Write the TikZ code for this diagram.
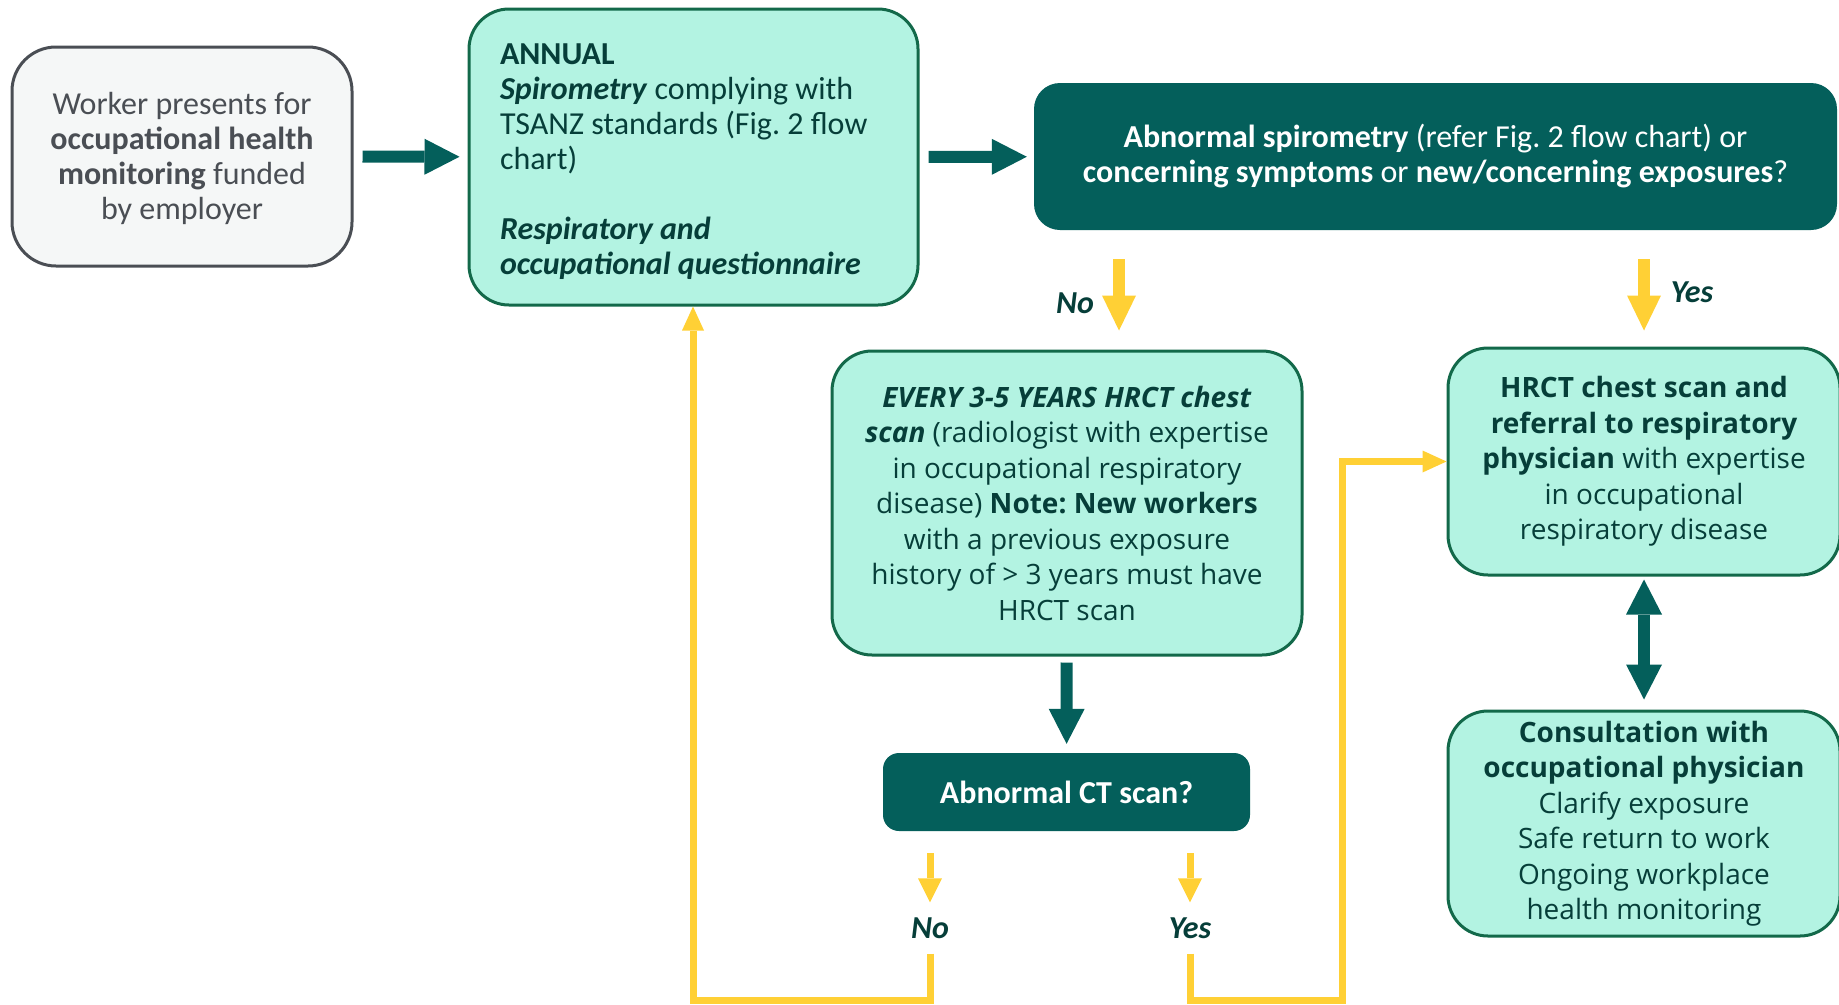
\documentclass[tikz,border=0pt]{standalone}
\usepackage{fontspec}
\setmainfont{Carlito}
\newfontfamily\widefont{Open Sans}
\usepackage{xcolor}
\usetikzlibrary{positioning,arrows.meta}
\definecolor{deepteal}{HTML}{045F5B}
\definecolor{mint}{HTML}{B3F3E2}
\definecolor{mintedge}{HTML}{13694A}
\definecolor{inkteal}{HTML}{063E39}
\definecolor{amber}{HTML}{FFD035}
\definecolor{slate}{HTML}{4A4E54}
\definecolor{paper}{HTML}{F5F7F7}
\newcommand{\narrowtxt}{\fontsize{32}{35}\selectfont}
\newcommand{\widetxt}{\widefont\fontsize{28}{35.5}\selectfont}
\newcommand{\bi}[1]{\textbf{\textit{#1}}}
\tikzset{
  intake/.style = {rectangle, rounded corners=44pt, draw=slate, fill=paper, line width=3pt,
                   text=slate, align=center, font=\narrowtxt},
  stage/.style  = {rectangle, rounded corners=40pt, draw=mintedge, fill=mint, line width=3pt,
                   text=inkteal, align=center, font=\widetxt},
  query/.style  = {rectangle, fill=deepteal, text=white, align=center, font=\narrowtxt},
  yesno/.style  = {inner sep=0pt, text=inkteal, font=\narrowtxt\bfseries\itshape},
  flow/.style   = {-{Triangle[length=35pt,width=36pt,line width=0pt]}, line width=12pt, draw=deepteal},
  twoway/.style = {{Triangle[length=35pt,width=36pt,line width=0pt]}-{Triangle[length=35pt,width=36pt,line width=0pt]},
                   line width=12pt, draw=deepteal},
  branch/.style = {-{Triangle[length=35pt,width=34pt,line width=0pt]}, line width=12pt, draw=amber},
  tick/.style   = {-{Triangle[length=24pt,width=24pt,line width=0pt]}, line width=7pt, draw=amber},
  back/.style   = {-{Triangle[length=24pt,width=22pt,line width=0pt]}, line width=7pt, draw=amber},
}

\begin{document}
\frenchspacing
\begin{tikzpicture}[x=1pt, y=-1pt]
  \useasboundingbox (0,0) rectangle (1839,1004);

  \node[intake, minimum width=340pt, minimum height=219pt] (worker) at (182,156.5)
    {\rule{0pt}{27pt}Worker presents for\\ \textbf{occupational health}\\ \textbf{monitoring} funded\\ by employer};

  \node[stage, font=\narrowtxt, align=flush left, text width=387pt, minimum width=449pt, minimum height=296pt]
    (annual) at (693.5,157)
    {\rule{0pt}{31pt}\textbf{ANNUAL}\\ \bi{Spirometry} complying with\\ TSANZ standards (Fig. 2 flow\\ chart)\\[35pt]
     \bi{Respiratory and}\\ \bi{occupational questionnaire}};

  \node[query, rounded corners=26pt, minimum width=803pt, minimum height=147pt] (spiro) at (1435.5,156.5)
    {\textbf{Abnormal spirometry} (refer Fig. 2 flow chart) or\\
     \textbf{concerning symptoms} or \textbf{new/concerning exposures}?};

  \node[stage, minimum width=470pt, minimum height=304pt] (every) at (1067,503)
    {\bi{EVERY 3-5 YEARS HRCT chest}\\ \bi{scan} (radiologist with expertise\\ in occupational respiratory\\
     disease) \textbf{Note: New workers}\\ with a previous exposure\\ history of > 3 years must have\\ HRCT scan};

  \node[query, rounded corners=16pt, font=\narrowtxt\bfseries, minimum width=367pt, minimum height=78pt]
    (ct) at (1066.5,792) {Abnormal CT scan?};

  \node[stage, minimum width=392pt, minimum height=227pt] (hrct) at (1644,461.5)
    {\textbf{HRCT chest scan and}\\ \textbf{referral to respiratory}\\ \textbf{physician} with expertise\\
     in occupational\\ respiratory disease};

  \node[stage, minimum width=392pt, minimum height=225pt] (consult) at (1644,823.5)
    {\textbf{Consultation with}\\ \textbf{occupational physician}\\ Clarify exposure\\ Safe return to work\\
     Ongoing workplace\\ health monitoring};

  \node[yesno] (spino) at (1075,303) {No};
  \node[yesno] (spiyes) at (1692,292) {Yes};
  \node[yesno] (ctno) at (930,928) {No};
  \node[yesno] (ctyes) at (1190,928) {Yes};
  \coordinate (loopL) at (693,1000);
  \coordinate (loopR) at (1342,1000);

  \draw[flow, shorten <=9pt, shorten >=8pt] (worker) -- (annual);
  \draw[flow, shorten <=9pt, shorten >=7pt] (annual) -- (spiro);
  \draw[branch, shorten <=29pt, shorten >=19pt] ([xshift=52pt]every.north |- spiro.south) -- ([xshift=52pt]every.north);
  \draw[branch, shorten <=29pt, shorten >=16pt] (hrct.north |- spiro.south) -- (hrct.north);
  \draw[flow, shorten <=6pt, shorten >=9pt] (every) -- (ct);
  \draw[twoway, shorten <=3pt, shorten >=10pt] (hrct) -- (consult);
  \draw[tick, shorten <=22pt, shorten >=15pt] (ct.south -| ctno) -- (ctno.north);
  \draw[tick, shorten <=22pt, shorten >=15pt] (ct.south -| ctyes) -- (ctyes.north);
  \draw[back, shorten <=15pt] (ctno.south) |- (loopL) -- (loopL |- annual.south);
  \draw[back, shorten <=15pt] (ctyes.south) |- (loopR) |- (hrct.west);
\end{tikzpicture}
\end{document}
